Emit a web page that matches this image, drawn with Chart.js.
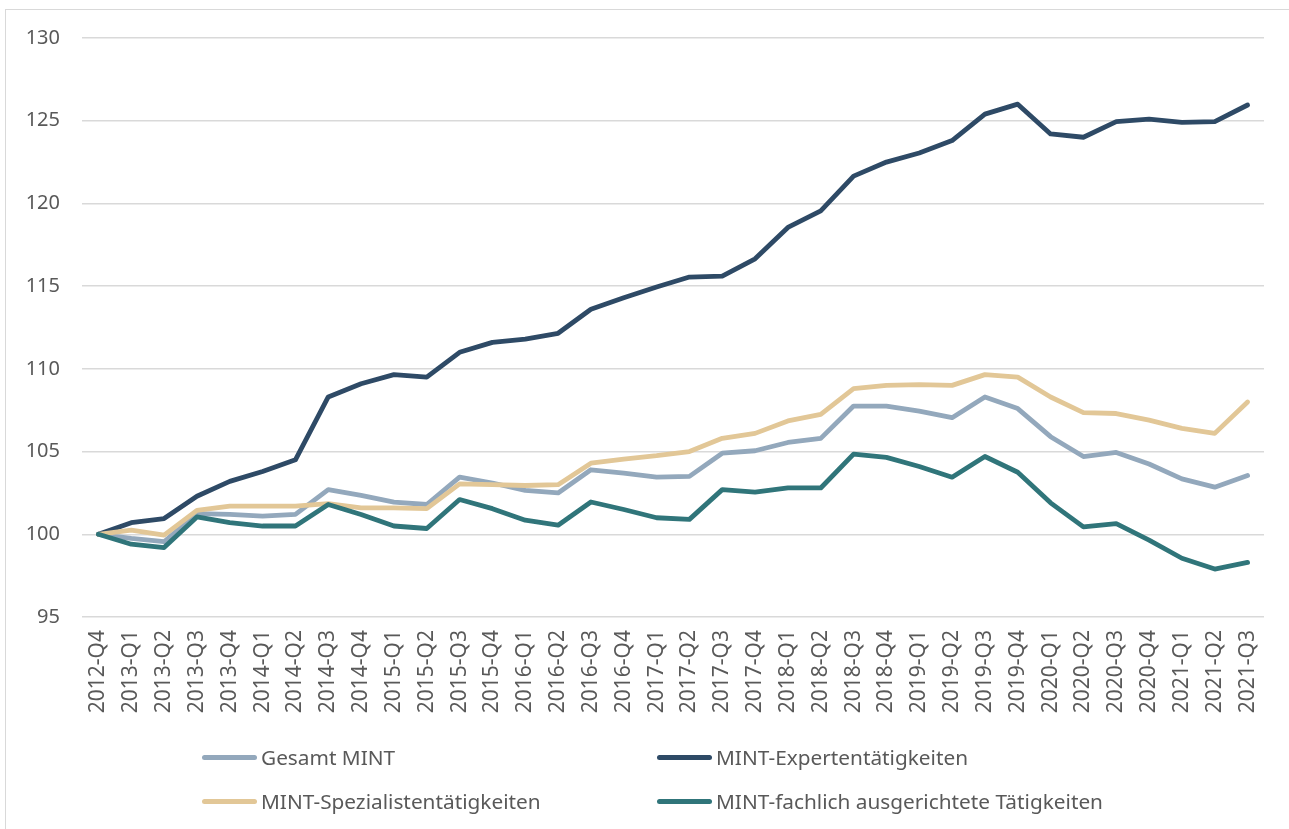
<!DOCTYPE html>
<html>
<head>
<meta charset="utf-8">
<script src="https://cdn.jsdelivr.net/npm/chart.js@4.4.1/dist/chart.umd.min.js"></script>
<style>
    html, body { margin: 0; padding: 0; background: #fff; overflow: hidden; }
    #wrap { position: relative; width: 1289px; height: 829px; }
    #frame { position: absolute; left: 5px; top: 9px; width: 1300px; height: 840px;
             border: 1px solid #d9d9d9; box-sizing: border-box; }
    #chart1 { position: absolute; left: 0; top: 0; }
    #legend { position: absolute; left: 0; top: 0; width: 1289px; height: 829px; pointer-events: none;
              font-family: "Noto Sans", sans-serif; font-size: 20.8px; color: #595959; }
    .item { position: absolute; display: flex; align-items: center; height: 30px; }
    .swatch { width: 55px; height: 5px; border-radius: 3px; margin-right: 4px; }
</style>
</head>
<body>
<div id="wrap">
    <div id="frame"></div>
    <canvas id="chart1" width="1289" height="829"></canvas>
    <div id="legend"></div>
</div>
<script>
const labels = [
    "2012-Q4",
    "2013-Q1", "2013-Q2", "2013-Q3", "2013-Q4",
    "2014-Q1", "2014-Q2", "2014-Q3", "2014-Q4",
    "2015-Q1", "2015-Q2", "2015-Q3", "2015-Q4",
    "2016-Q1", "2016-Q2", "2016-Q3", "2016-Q4",
    "2017-Q1", "2017-Q2", "2017-Q3", "2017-Q4",
    "2018-Q1", "2018-Q2", "2018-Q3", "2018-Q4",
    "2019-Q1", "2019-Q2", "2019-Q3", "2019-Q4",
    "2020-Q1", "2020-Q2", "2020-Q3", "2020-Q4",
    "2021-Q1", "2021-Q2", "2021-Q3"
]

const gesamt = [100, 99.75, 99.55, 101.25, 101.2, 101.1, 101.2, 102.7, 102.35, 101.95, 101.8, 103.45,
    103.1, 102.65, 102.5, 103.9, 103.7, 103.45, 103.5, 104.9, 105.05, 105.55, 105.8, 107.75,
    107.75, 107.45, 107.05, 108.3, 107.6, 105.9, 104.7, 104.95, 104.25, 103.35, 102.85, 103.55]

const experten = [100, 100.7, 100.95, 102.3, 103.2, 103.8, 104.5, 108.3, 109.1, 109.65, 109.5, 111.0,
    111.6, 111.8, 112.15, 113.6, 114.3, 114.95, 115.55, 115.6, 116.65, 118.55, 119.55, 121.65,
    122.5, 123.05, 123.8, 125.4, 126.0, 124.2, 124.0, 124.95, 125.1, 124.9, 124.95, 125.95]

const spezialisten = [100, 100.25, 99.95, 101.45, 101.7, 101.7, 101.7, 101.85, 101.6, 101.6, 101.55, 103.05,
    103.0, 102.95, 103.0, 104.3, 104.55, 104.75, 105.0, 105.8, 106.1, 106.85, 107.25, 108.8,
    109.0, 109.05, 109.0, 109.65, 109.5, 108.3, 107.35, 107.3, 106.9, 106.4, 106.1, 108.0]

const fachlich = [100, 99.4, 99.2, 101.05, 100.7, 100.5, 100.5, 101.8, 101.2, 100.5, 100.35, 102.1,
    101.55, 100.85, 100.55, 101.95, 101.5, 101.0, 100.9, 102.7, 102.55, 102.8, 102.8, 104.85,
    104.65, 104.1, 103.45, 104.7, 103.75, 101.9, 100.45, 100.65, 99.65, 98.55, 97.9, 98.3]

const seriesNames = ["Gesamt MINT", "MINT-Expertentätigkeiten", "MINT-Spezialistentätigkeiten",
    "MINT-fachlich ausgerichtete Tätigkeiten"]
const seriesData = [gesamt, experten, spezialisten, fachlich]
const seriesColors = ["#93a8bc", "#2e4a66", "#e2c797", "#30757a"]

const textColor = "#595959"
const font = { family: "'Noto Sans', sans-serif", size: 20 }

let datasets = []
for (let i = 0; i < seriesNames.length; i++) {
    datasets.push({
        label: seriesNames[i],
        data: seriesData[i],
        borderColor: seriesColors[i],
        backgroundColor: seriesColors[i],
        borderWidth: 4.8,
        borderJoinStyle: "round",
        borderCapStyle: "round",
        pointRadius: 0,
        tension: 0,
        order: seriesNames.length - i, // later series on top, like the original
    })
}

// legend in two columns below the axis
const htmlLegend = {
    id: "htmlLegend",
    afterUpdate(chart) {
        const box = document.getElementById("legend")
        box.innerHTML = ""
        const cols = [202, 657]
        const rows = [742, 786]
        chart.data.datasets.forEach((ds, i) => {
            const item = document.createElement("div")
            item.className = "item"
            item.style.left = cols[i % 2] + "px"
            item.style.top = rows[Math.floor(i / 2)] + "px"
            const sw = document.createElement("span")
            sw.className = "swatch"
            sw.style.background = ds.borderColor
            const tx = document.createElement("span")
            tx.textContent = ds.label
            item.appendChild(sw)
            item.appendChild(tx)
            box.appendChild(item)
        })
    }
}

const ctx = document.getElementById("chart1").getContext("2d")
new Chart(ctx, {
    type: "line",
    data: { labels: labels, datasets: datasets },
    options: {
        responsive: false,
        animation: false,
        layout: { padding: { left: 0, top: 38, right: 25, bottom: 0 } },
        scales: {
            x: {
                offset: true,
                grid: { display: false, drawTicks: false },
                border: { display: false },
                ticks: {
                    color: textColor,
                    font: { family: font.family, size: 21 },
                    minRotation: 90,
                    maxRotation: 90,
                    autoSkip: false,
                    padding: 13,
                },
                afterFit(scale) { scale.height = 212 },
            },
            y: {
                min: 95,
                max: 130,
                grid: { color: "#d9d9d9", lineWidth: 1.5, drawTicks: false },
                border: { display: false },
                ticks: { stepSize: 5, color: textColor, font: font, padding: 22 },
                afterFit(scale) { scale.width = 82 },
            }
        },
        plugins: {
            legend: { display: false },
            tooltip: { enabled: false },
        }
    },
    plugins: [htmlLegend]
})
</script>
</body>
</html>
